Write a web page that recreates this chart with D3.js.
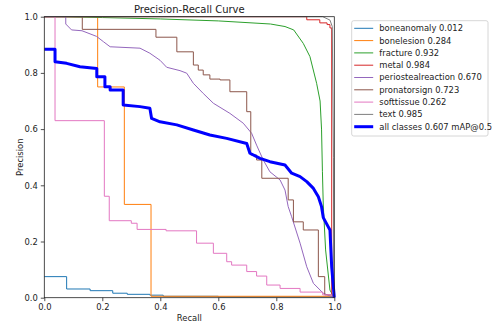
<!DOCTYPE html>
<html>
<head>
<meta charset="utf-8">
<script src="https://cdn.jsdelivr.net/npm/d3@7"></script>
<style>
  body { margin: 0; background: #fff; }
  svg text { font-family: "DejaVu Sans", sans-serif; fill: #222; }
</style>
</head>
<body>
<div id="plot"></div>
<script>
// recall / precision points
const boneanomaly = [[0,0.075],[0.077,0.031],[0.158,0.025],[0.236,0.016],[0.286,0.012],[0.364,0.009],[0.41,0.005],[0.6,0.003],[1.0,0.002],[1.0,0]]
const bonelesion = [[0,1],[0.184,0.75],[0.276,0.332],[0.368,0.005],[1.0,0.004],[1.0,0]]
const fracture = [[0,1],[0.06,1.0],[0.2,0.997],[0.4,0.992],[0.6,0.985],[0.78,0.974],[0.83,0.965],[0.86,0.953],[0.893,0.905],[0.916,0.858],[0.939,0.763],[0.951,0.7],[0.956,0.6],[0.959,0.45],[0.962,0.33],[0.97,0.17],[0.985,0.027],[1.0,0]]
const metal = [[0,1],[0.905,0.989],[0.95,0.978],[0.975,0.972],[0.985,0.96],[0.991,0.01],[1.0,0.005],[1.0,0]]
const periostealreaction = [[0,1],[0.074,1.0],[0.074,0.974],[0.094,0.953],[0.13,0.95],[0.18,0.93],[0.204,0.911],[0.227,0.893],[0.33,0.888],[0.364,0.87],[0.399,0.845],[0.422,0.82],[0.468,0.808],[0.491,0.799],[0.514,0.763],[0.548,0.727],[0.583,0.692],[0.64,0.656],[0.686,0.621],[0.715,0.585],[0.732,0.543],[0.755,0.49],[0.778,0.448],[0.813,0.419],[0.83,0.383],[0.841,0.324],[0.853,0.288],[0.882,0.194],[0.905,0.11],[0.928,0.051],[0.962,0.016],[1.0,0]]
const pronatorsign = [[0,1],[0.131,0.955],[0.385,0.927],[0.457,0.875],[0.514,0.828],[0.531,0.81],[0.548,0.793],[0.571,0.778],[0.606,0.775],[0.64,0.733],[0.698,0.662],[0.712,0.508],[0.732,0.49],[0.75,0.425],[0.841,0.348],[0.859,0.27],[0.893,0.241],[0.945,0.075],[0.967,0.01],[1.0,0],[1.0,0]]
const softtissue = [[0,1],[0.037,0.63],[0.207,0.361],[0.224,0.274],[0.3,0.265],[0.32,0.243],[0.42,0.238],[0.525,0.194],[0.583,0.158],[0.629,0.128],[0.646,0.116],[0.698,0.093],[0.732,0.077],[0.767,0.045],[0.813,0.033],[0.882,0.02],[0.96,0.01],[1.0,0],[1.0,0]]
const text = [[0,1],[0.96,1.0],[0.985,0.988],[0.993,0.965],[0.997,0.5],[0.998,0.01],[1.0,0]]
const allClasses = [[0,0.884],[0.037,0.884],[0.037,0.84],[0.077,0.834],[0.123,0.822],[0.181,0.816],[0.181,0.786],[0.209,0.786],[0.209,0.751],[0.227,0.751],[0.227,0.739],[0.272,0.739],[0.272,0.686],[0.33,0.68],[0.364,0.674],[0.37,0.638],[0.399,0.626],[0.457,0.615],[0.514,0.597],[0.571,0.579],[0.629,0.567],[0.698,0.549],[0.709,0.514],[0.744,0.496],[0.778,0.484],[0.83,0.472],[0.853,0.443],[0.882,0.431],[0.905,0.413],[0.928,0.389],[0.945,0.359],[0.956,0.324],[0.962,0.285],[0.985,0.241],[0.991,0.11],[1.0,0]]

const classNames = ["boneanomaly","bonelesion","fracture","metal","periostealreaction","pronatorsign","softtissue","text"]
const classAP = ["0.012","0.284","0.932","0.984","0.670","0.723","0.262","0.985"]
const classColors = ["#1f77b4","#ff7f0e","#2ca02c","#d62728","#9467bd","#8c564b","#e377c2","#7f7f7f"]
const classData = [boneanomaly, bonelesion, fracture, metal, periostealreaction, pronatorsign, softtissue, text]
const stepped = [true, true, false, true, false, true, true, false]
const mapLabel = "all classes 0.607 mAP@0.5"
const ticks = [0, 0.2, 0.4, 0.6, 0.8, 1.0]

const W = 499, H = 324
const margin = {top: 16.7, left: 44.3, right: 164.7, bottom: 26.3}
const width = W - margin.left - margin.right,
  height = H - margin.top - margin.bottom

const svg = d3.select("#plot").append("svg")
  .attr("width", W).attr("height", H)

const g = svg.append("g")
  .attr("transform", `translate(${margin.left},${margin.top})`)

const x = d3.scaleLinear().domain([0, 1]).range([0, width])
const y = d3.scaleLinear().domain([0, 1]).range([height, 0])

// curves
classData.forEach((d, i) => {
  const line = d3.line()
    .x(p => x(p[0])).y(p => y(p[1]))
    .curve(stepped[i] ? d3.curveStepAfter : d3.curveLinear)
  g.append("path")
    .datum(d)
    .attr("d", line)
    .style("fill", "none")
    .style("stroke", classColors[i])
    .style("stroke-width", 1)
})

g.append("path")
  .datum(allClasses)
  .attr("d", d3.line().x(p => x(p[0])).y(p => y(p[1])))
  .style("fill", "none")
  .style("stroke", "#0000ff")
  .style("stroke-width", 3)
  .style("stroke-linejoin", "round")

// axes
const xAxis = g.append("g")
  .attr("transform", `translate(0,${height})`)
  .call(d3.axisBottom(x).tickValues(ticks).tickFormat(d3.format(".1f")).tickSize(3.5).tickPadding(3))
const yAxis = g.append("g")
  .call(d3.axisLeft(y).tickValues(ticks).tickFormat(d3.format(".1f")).tickSize(3.5).tickPadding(3))

for (const ax of [xAxis, yAxis]) {
  ax.select(".domain").remove()
  ax.selectAll("line").style("stroke", "#222").style("stroke-width", 0.8)
  ax.selectAll("text").style("font-size", "8.4px").style("font-family", "DejaVu Sans").style("fill", "#222")
}

// spines
g.append("rect")
  .attr("width", width).attr("height", height)
  .style("fill", "none").style("stroke", "#222").style("stroke-width", 0.8)

svg.append("text")
  .attr("x", margin.left + width / 2).attr("y", 12.5)
  .attr("text-anchor", "middle")
  .style("font-size", "10px")
  .text("Precision-Recall Curve")

svg.append("text")
  .attr("x", margin.left + width / 2).attr("y", 321)
  .attr("text-anchor", "middle")
  .style("font-size", "8.4px")
  .text("Recall")

svg.append("text")
  .attr("transform", `translate(23,${margin.top + height / 2}) rotate(-90)`)
  .attr("text-anchor", "middle")
  .style("font-size", "8.4px")
  .text("Precision")

// legend
const legend = svg.append("g").attr("transform", "translate(351.7,20.7)")
legend.append("rect")
  .attr("width", 136.3).attr("height", 115.3)
  .attr("rx", 2)
  .style("fill", "#fff").style("fill-opacity", 0.8)
  .style("stroke", "#ccc").style("stroke-width", 0.8)

const legendItems = classNames.map((n, i) => ({label: n + " " + classAP[i], color: classColors[i], w: 1}))
legendItems.push({label: mapLabel, color: "#0000ff", w: 3})

legendItems.forEach((it, i) => {
  const yy = 7.6 + i * 12.3
  legend.append("line")
    .attr("x1", 2.5).attr("x2", 21.5).attr("y1", yy).attr("y2", yy)
    .style("stroke", it.color).style("stroke-width", it.w)
  legend.append("text")
    .attr("x", 27.6).attr("y", yy)
    .attr("dy", "0.35em")
    .style("font-size", "8.4px")
    .text(it.label)
})
</script>
</body>
</html>
